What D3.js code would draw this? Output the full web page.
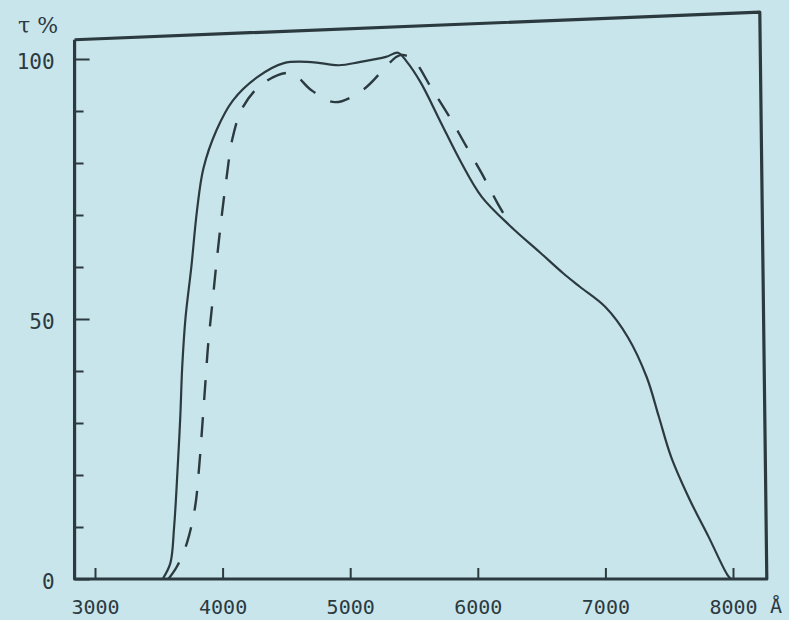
<!DOCTYPE html>
<html>
<head>
    <meta charset="utf-8">
    <title>Transmission curve</title>
    <script src="https://d3js.org/d3.v7.min.js"></script>
    <style>
        body { margin: 0; background: #c9e5ec; }
        svg { display: block; }
    </style>
</head>
<body>
    <svg width="789" height="620"></svg>
    <script>
        // tick values
        var xTicks = [3000, 4000, 5000, 6000, 7000, 8000];
        var yTicks = [0, 10, 20, 30, 40, 50, 60, 70, 80, 90, 100];
        var yLabels = [0, 50, 100];

        // solid curve (wavelength in A, transmission %)
        var solidWl = [3530, 3590, 3620, 3648, 3668, 3684, 3710, 3755, 3800, 3850, 3952, 4080, 4272, 4480,
            4696, 4912, 5072, 5280, 5375, 5440, 5552, 5712, 5872, 6031, 6262, 6492, 6669, 6800, 7000,
            7176, 7324, 7419, 7515, 7662, 7809, 7956, 7985];
        var solidT = [0, 3, 10, 21.5, 31, 41, 50.4, 60, 71, 79, 86.3, 92, 96.5, 99.2,
            99.4, 98.8, 99.4, 100.4, 101.2, 99.6, 95.5, 87.7, 80, 73.5, 67.7, 62.7, 58.8, 56.2, 52.3,
            46.5, 38.8, 31.2, 23.5, 15.2, 8.1, 0.8, 0];

        // dashed curve
        var dashWl = [3575, 3640, 3720, 3784, 3816, 3840, 3865, 3888, 3920, 3952, 3992, 4030, 4080, 4160,
            4320, 4536, 4696, 4880, 5096, 5280, 5360, 5410, 5496, 5632, 5792, 5896, 6031, 6154, 6270];
        var dashT = [0, 2.3, 6.9, 13.8, 21.5, 29.2, 37.7, 45.4, 53.1, 60.8, 69.6, 77, 85, 90.8,
            95.4, 97.3, 94, 91.7, 94, 98.5, 100.4, 100.8, 99.8, 94.6, 88.3, 83.8, 78, 72.3, 67.5];

        var ink = "#2b3a3f";
        var svg = d3.select("svg");

        var x = d3.scaleLinear().domain([3000, 8000]).range([95, 733]);
        var y = d3.scaleLinear().domain([0, 100]).range([579, 59]);

        // frame (the top edge is drawn slanted, as in the photo)
        var frame = [[2840, 103.7], [2840, 0], [8265, 0], [8210, 109], [2840, 103.7]];
        svg.append("path")
            .attr("d", d3.line().x(function (d) { return x(d[0]); }).y(function (d) { return y(d[1]); })(frame))
            .attr("fill", "none")
            .attr("stroke", ink)
            .attr("stroke-width", 3.2)
            .attr("stroke-linejoin", "round");

        // x axis
        var axX = svg.append("g")
            .attr("transform", "translate(0," + y(0) + ")")
            .call(d3.axisBottom(x).tickValues(xTicks).tickSize(-11).tickPadding(21).tickFormat(d3.format("d")));
        axX.select(".domain").remove();
        axX.selectAll("line").attr("stroke", ink).attr("stroke-width", 2);
        axX.selectAll("text")
            .attr("fill", ink)
            .style("font-family", "'DejaVu Sans Mono', monospace")
            .style("font-size", "20px");

        // y axis
        var axY = svg.append("g")
            .attr("transform", "translate(" + x(2840) + ",0)")
            .call(d3.axisLeft(y).tickValues(yTicks).tickSize(-9).tickPadding(20)
                .tickFormat(function (d) { return yLabels.indexOf(d) >= 0 ? d : ""; }));
        axY.select(".domain").remove();
        axY.selectAll("line")
            .attr("stroke", ink)
            .attr("stroke-width", 2)
            .attr("x2", function (d) { return d % 50 === 0 ? 15 : 9; });
        axY.selectAll("text")
            .attr("fill", ink)
            .attr("dy", "0.45em")
            .style("font-family", "'DejaVu Sans Mono', monospace")
            .style("font-size", "21px");

        // axis unit labels
        svg.append("text")
            .attr("x", 18).attr("y", 33)
            .attr("fill", ink)
            .style("font-family", "'DejaVu Serif', serif")
            .style("font-size", "22px")
            .text("τ %");
        svg.append("text")
            .attr("x", 776).attr("y", 613)
            .attr("text-anchor", "middle")
            .attr("fill", ink)
            .style("font-family", "'DejaVu Sans Mono', monospace")
            .style("font-size", "20px")
            .text("Å");

        var line = d3.line()
            .x(function (d) { return x(d[0]); })
            .y(function (d) { return y(d[1]); })
            .curve(d3.curveCatmullRom.alpha(0.5));

        svg.append("path")
            .attr("d", line(d3.zip(solidWl, solidT)))
            .attr("fill", "none")
            .attr("stroke", ink)
            .attr("stroke-width", 2.2);

        svg.append("path")
            .attr("d", line(d3.zip(dashWl, dashT)))
            .attr("fill", "none")
            .attr("stroke", ink)
            .attr("stroke-width", 2.4)
            .attr("stroke-dasharray", "20,17");
    </script>
</body>
</html>
